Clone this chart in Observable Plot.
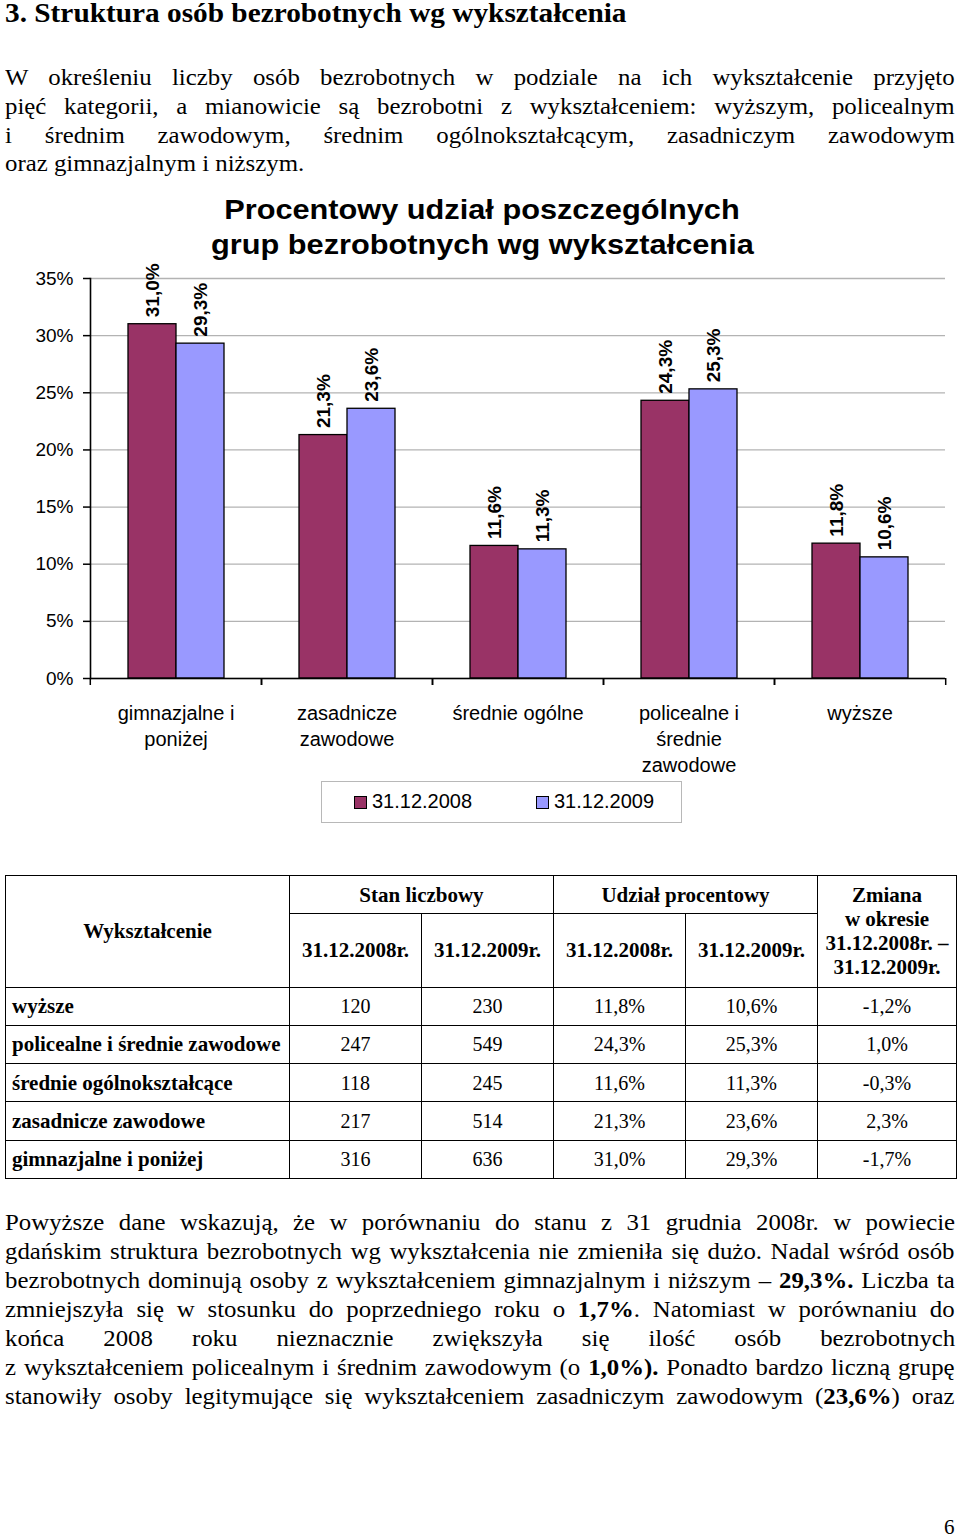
<!DOCTYPE html>
<html>
<head>
<meta charset="utf-8">
<script src="https://cdn.jsdelivr.net/npm/d3@7"></script>
<script src="https://cdn.jsdelivr.net/npm/@observablehq/plot@0.6"></script>
<style>
  html, body { margin: 0; padding: 0; background: #fff; }
  body { width: 960px; height: 1537px; position: relative; overflow: hidden; color: #000;
         font-family: "Liberation Serif", "Times New Roman", serif; }
  .ln { position: absolute; left: 5px; white-space: nowrap; display: inline-block;
        font-size: 21px; line-height: 21px; transform-origin: 0 0; }
  .title { position: absolute; left: 0; width: 964px; text-align: center;
           font-family: "Liberation Sans", Arial, sans-serif; font-weight: bold;
           font-size: 28px; line-height: 28px; white-space: nowrap; }
  .title span { display: inline-block; transform-origin: 50% 0; }
  #chart { position: absolute; left: 0; top: 262px; }
  #legend { position: absolute; left: 321px; top: 781px; width: 359px; height: 40px;
            border: 1.5px solid #b8b8b8; font-family: "Liberation Sans", Arial, sans-serif;
            font-size: 20px; }
  #legend .sw { position: absolute; width: 11px; height: 11px; border: 1px solid #000; top: 14px; }
  #legend .lt { position: absolute; top: 9px; line-height: 20px; white-space: nowrap; }
  #tbl { position: absolute; left: 5px; top: 875px; border-collapse: collapse; table-layout: fixed;
         font-size: 20px; }
  #tbl td { border: 1.5px solid #000; padding: 0; text-align: center; vertical-align: middle; line-height: 24px; }
  #tbl td.h { font-weight: bold; font-size: 21px; }
  #tbl td.rl { text-align: left; padding-left: 6px; font-weight: bold; font-size: 21px; white-space: nowrap; }
  #pg { position: absolute; left: 944px; font-size: 21px; line-height: 21px; }
</style>
</head>
<body>
<div id="page"></div>
<script>
// ---------------- data ----------------
const categories = ["gimnazjalne i poniżej", "zasadnicze zawodowe", "średnie ogólne", "policealne i średnie zawodowe", "wyższe"];
const categoryLabels = ["gimnazjalne i\nponiżej", "zasadnicze\nzawodowe", "średnie ogólne", "policealne i\nśrednie\nzawodowe", "wyższe"];
const seriesNames = ["31.12.2008", "31.12.2009"];
const share2008 = [31.0, 21.3, 11.6, 24.3, 11.8];
const share2009 = [29.3, 23.6, 11.3, 25.3, 10.6];
const yTicks = [0, 5, 10, 15, 20, 25, 30, 35];
const seriesColors = ["#993366", "#9999FF"];
const chartTitle = ["Procentowy udział poszczególnych", "grup bezrobotnych wg wykształcenia"];

const tableEducation = ["wyższe", "policealne i średnie zawodowe", "średnie ogólnokształcące", "zasadnicze zawodowe", "gimnazjalne i poniżej"];
const tableCount2008 = [120, 247, 118, 217, 316];
const tableCount2009 = [230, 549, 245, 514, 636];
const tableShare2008 = [11.8, 24.3, 11.6, 21.3, 31.0];
const tableShare2009 = [10.6, 25.3, 11.3, 23.6, 29.3];
const tableChange = [-1.2, 1.0, -0.3, 2.3, -1.7];

const heading = "3. Struktura osób bezrobotnych wg wykształcenia";
const introLines = [
  "W określeniu liczby osób bezrobotnych w podziale na ich wykształcenie przyjęto",
  "pięć kategorii, a mianowicie są bezrobotni z wykształceniem: wyższym, policealnym",
  "i średnim zawodowym, średnim ogólnokształcącym, zasadniczym zawodowym",
  "oraz gimnazjalnym i niższym."
];
const outroLines = [
  "Powyższe dane wskazują, że w porównaniu do stanu z 31 grudnia 2008r. w powiecie",
  "gdańskim struktura bezrobotnych wg wykształcenia nie zmieniła się dużo. Nadal wśród osób",
  "bezrobotnych dominują osoby z wykształceniem gimnazjalnym i niższym – <b>29,3%.</b> Liczba ta",
  "zmniejszyła  się w stosunku do poprzedniego roku o <b>1,7%</b>. Natomiast w porównaniu do",
  "końca 2008 roku nieznacznie zwiększyła się ilość osób bezrobotnych",
  "z wykształceniem policealnym i średnim zawodowym (o <b>1,0%).</b> Ponadto bardzo liczną grupę",
  "stanowiły osoby legitymujące się wykształceniem zasadniczym zawodowym (<b>23,6%</b>) oraz"
];

const fmtPct = v => v.toFixed(1).replace(".", ",") + "%";

// ---------------- text ----------------
const page = document.getElementById("page");
function addLine(html, baseline, fs, bold) {
  const d = document.createElement("div");
  d.className = "ln";
  d.innerHTML = html;
  d.style.fontSize = fs + "px";
  d.style.lineHeight = fs + "px";
  if (bold) d.style.fontWeight = "bold";
  d.style.top = Math.max(0, baseline - 0.8375 * fs) + "px";
  page.appendChild(d);
  return d;
}
const h = addLine(heading, 22.6, 27, true);
h.style.transform = `scaleX(${622 / h.offsetWidth})`;

const bodyFs = 23.5;
const intro = introLines.map((t, i) => addLine(t, 86 + 28.7 * i, bodyFs));
const outro = outroLines.map((t, i) => addLine(t, 1230.5 + 29.1 * i, bodyFs));
const s = 299 / intro[intro.length - 1].offsetWidth;
function justify(el) {
  const gaps = el.textContent.trim().split(/\s+/).length - 1;
  const w = el.offsetWidth;
  el.style.wordSpacing = ((950 / s - w) / gaps) + "px";
}
intro.forEach((el, i) => { if (i < intro.length - 1) justify(el); el.style.transform = `scaleX(${s})`; });
outro.forEach(el => { justify(el); el.style.transform = `scaleX(${s})`; });

// chart title
chartTitle.forEach((t, i) => {
  const d = document.createElement("div");
  d.className = "title";
  d.style.top = (219.3 + 35.5 * i - 0.905 * 28 + 1.6) + "px";
  d.innerHTML = `<span>${t}</span>`;
  page.appendChild(d);
});
const tspans = document.querySelectorAll(".title span");
const ts = 543 / tspans[1].offsetWidth;
tspans.forEach(sp => sp.style.transform = `scaleX(${ts})`);

// ---------------- chart ----------------
const data = categories.flatMap((c, i) => [
  {cat: c, series: seriesNames[0], value: share2008[i]},
  {cat: c, series: seriesNames[1], value: share2009[i]}
]);
const W = 960, ML = 89, MR = 14;
const fxStep = (W - ML - MR) / categories.length;

const chart = Plot.plot({
  width: W, height: 516,
  marginLeft: ML, marginRight: MR, marginTop: 16, marginBottom: 100,
  style: {fontFamily: '"Liberation Sans", Arial, sans-serif', fontSize: "19px", background: "white", color: "black", overflow: "visible"},
  fx: {domain: categories, padding: 0, label: null, axis: null},
  x: {domain: seriesNames, paddingInner: 0, paddingOuter: 0.75, axis: null, label: null},
  y: {domain: [0, 35], label: null, axis: null},
  color: {domain: seriesNames, range: seriesColors},
  marks: [
    Plot.gridY(yTicks, {stroke: "#b3b3b3", strokeOpacity: 1, strokeWidth: 1.3}),
    Plot.barY(data, {fx: "cat", x: "series", y: "value", fill: "series", stroke: "black", strokeWidth: 1.3, inset: 0}),
    Plot.text(data, {fx: "cat", x: "series", y: "value", text: d => fmtPct(d.value), rotate: -90, textAnchor: "start", dy: -7, fontWeight: "bold", fontSize: 19}),
    Plot.ruleY([0], {stroke: "black", strokeWidth: 1.6}),
    Plot.axisY(yTicks, {tickSize: 7, tickPadding: 10, tickFormat: d => d + "%", fontSize: 19, label: null, strokeWidth: 1.5}),
    Plot.axisFx({anchor: "bottom", tickSize: 7, tickFormat: () => "", dx: -fxStep / 2, strokeWidth: 1.5, label: null}),
    Plot.axisFx([categories[categories.length - 1]], {anchor: "bottom", tickSize: 7, tickFormat: () => "", dx: fxStep / 2, strokeWidth: 1.5, label: null}),
    Plot.frame({anchor: "left", facetAnchor: "left", stroke: "black", strokeWidth: 1.6}),
    Plot.text(categories, {fx: d => d, text: (d, i) => categoryLabels[i], frameAnchor: "bottom", lineAnchor: "top", dy: 23, lineHeight: 1.3, fontSize: 20})
  ]
});
chart.id = "chart";
page.appendChild(chart);

// legend
const lg = document.createElement("div");
lg.id = "legend";
lg.innerHTML = `
  <div class="sw" style="left:32px;background:${seriesColors[0]}"></div>
  <div class="lt" style="left:50px">${seriesNames[0]}</div>
  <div class="sw" style="left:214px;background:${seriesColors[1]}"></div>
  <div class="lt" style="left:232px">${seriesNames[1]}</div>`;
page.appendChild(lg);

// ---------------- table ----------------
const colW = [284, 132, 132, 132, 132, 139];
let html = `<colgroup>${colW.map(w => `<col style="width:${w}px">`).join("")}</colgroup>`;
html += `<tr style="height:38px"><td class="h" rowspan="2">Wykształcenie</td><td class="h" colspan="2">Stan liczbowy</td><td class="h" colspan="2">Udział procentowy</td><td class="h" rowspan="2">Zmiana<br>w okresie<br>31.12.2008r. –<br>31.12.2009r.</td></tr>`;
html += `<tr style="height:73.5px"><td class="h">31.12.2008r.</td><td class="h">31.12.2009r.</td><td class="h">31.12.2008r.</td><td class="h">31.12.2009r.</td></tr>`;
tableEducation.forEach((e, i) => {
  html += `<tr style="height:38.3px"><td class="rl">${e}</td><td>${tableCount2008[i]}</td><td>${tableCount2009[i]}</td><td>${fmtPct(tableShare2008[i])}</td><td>${fmtPct(tableShare2009[i])}</td><td>${fmtPct(tableChange[i])}</td></tr>`;
});
const tbl = document.createElement("table");
tbl.id = "tbl";
tbl.innerHTML = html;
page.appendChild(tbl);

// page number
const pg = document.createElement("div");
pg.id = "pg";
pg.textContent = "6";
pg.style.top = (1535 - 0.8375 * 21) + "px";
page.appendChild(pg);
</script>
</body>
</html>
